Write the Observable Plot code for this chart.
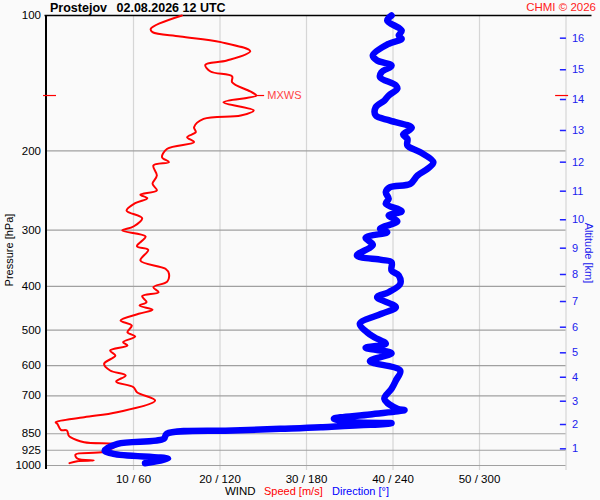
<!DOCTYPE html>
<html><head><meta charset="utf-8">
<script src="https://cdn.jsdelivr.net/npm/d3@7"></script>
<script src="https://cdn.jsdelivr.net/npm/@observablehq/plot@0.6"></script>
<style>body{margin:0;background:#fafafa;} svg{display:block}</style>
</head><body><div id="chart"></div>
<script>
// Wind speed profile [m/s] vs pressure [hPa]
const speedPressure = [100,107.0,108.9,111.3,114.6,120.1,125.9,128.7,133.2,136.6,140.7,147.5,150.6,155.9,162.6,166.8,169.7,177.1,181.7,186.4,191.2,197.8,206.5,211.8,215.4,226.8,236.6,244.8,250.2,254.7,261.3,271.3,282.1,294.4,300.5,309.8,325.6,331.6,350.4,365.5,375.0,390.1,401.6,412.0,420.5,433.6,441.0,450.8,460.1,476.2,488.6,505.6,516.8,532.1,541.2,555.3,569.8,594.3,615.0,631.0,650.7,669.9,687.3,717.2,761.4,781.1,801.4,808,833,836,858,865,888,899,932,945,965,975,978,988];
const speedValues   = [15.6,12.0,12.2,15.4,20.1,23.5,20.8,18.3,18.9,21.4,21.4,23.5,24.2,20.4,23.9,22.4,18.1,17.0,17.2,16.2,17.0,13.9,13.3,14.1,12.3,12.7,12.2,12.7,10.8,11.6,10.2,9.2,11.0,10.0,8.7,11.4,10.4,11.7,10.8,13.7,14.1,13.9,12.3,12.9,11.0,11.5,10.7,12.2,10.6,8.5,9.8,9.3,10.2,8.8,9.3,7.3,7.9,6.6,7.3,9.1,8.0,10.0,10.4,12.5,8.1,4.3,1.0,1.2,1.6,2.3,2.5,2.7,4.3,8.1,6.6,3.3,3.5,5.4,3.5,2.6];
// Wind direction profile [deg] vs pressure [hPa]
const dirPressure = [100,102.6,108.0,110.8,112.7,115.6,122.7,125.9,129.2,133.7,137.1,143.0,145.5,150.6,154.5,159.9,166.8,171.2,177.7,183.9,187.9,194.5,201.3,211.8,219.1,226.8,236.6,240.7,247.0,255.5,262.1,272.2,278.3,286.5,297.8,303.0,311.9,323.3,341.5,349.1,353.4,368.7,378.3,394.8,412.0,422.7,444.8,460.1,484.3,505.6,518.6,536.5,547.5,562.8,586.4,615.0,647.3,675.3,710.8,748.2,753,770.1,787.2,801.4,805.4,822.1,828.8,836,850.5,872.4,895.0,926.1,942.0,966.9,988.3];
const dirValues   = [239,236,246,244,246,237,226,229,239,232,231,242,243,237,234,228,228,238,253,247,250,250,259,268,264,257,252,238,235,237,235,246,237,243,231,236,221,226,215,232,239,239,244,245,237,229,242,232,217,222,227,235,221,239,224,245,242,239,234,243,248,224,199,213,239,190,162,129,83,81,49,40,46,84,68];
// Axis ticks
const pressureTicks = [100,200,300,400,500,600,700,850,925,1000];
const speedTicks = [10,20,30,40,50];
const gridSpeeds = [10,20,30,40,50,60];
const altitudeKm = [1,2,3,4,5,6,7,8,9,10,11,12,13,14,15,16];
const altitudePressure = [918.2,810.8,719.7,636.6,561.8,492.8,432.1,376.3,328.9,284.4,245.7,211.8,180.1,153.7,132.0,112.3];
const maxWindPressure = 150.6;
const maxWindSpeed = 24.2;

const speedData = speedPressure.map((p, i) => ({p, v: speedValues[i]}));
const dirData = dirPressure.map((p, i) => ({p, v: dirValues[i]}));
const altData = altitudeKm.map((km, i) => ({km, p: altitudePressure[i]}));
const maxWind = [{p: maxWindPressure, speed: maxWindSpeed}];

const RED = "#ff0000", BLUE = "#0000ff";

const chart = Plot.plot({
  width: 600, height: 500,
  marginTop: 15, marginBottom: 35, marginLeft: 46.5, marginRight: 34.5,
  style: {fontFamily: "Liberation Sans, Arial, sans-serif", fontSize: "11px", background: "#fafafa", color: "#000", overflow: "visible"},
  x: {domain: [0, 60]},
  y: {type: "log", domain: [1000, 100]},
  marks: [
    Plot.ruleX(gridSpeeds, {stroke: "#d6d6d6", strokeWidth: 1.2, insetBottom: -5}),
    Plot.ruleY(pressureTicks.slice(1), {stroke: "#a0a0a0", strokeWidth: 1.2}),
    Plot.axisY(pressureTicks, {tickSize: 0, tickPadding: 6, tickFormat: d => String(d), label: null, fontSize: 11.5, fill: "#000"}),
    Plot.axisX(speedTicks, {tickSize: 0, tickPadding: 9, tickFormat: d => `${d} / ${d * 6}`, label: null, fontSize: 11.5, fill: "#000"}),
    Plot.ruleX([0], {stroke: "#000", strokeWidth: 2, dx: -1, insetBottom: -4}),
    Plot.ruleY([100], {stroke: "#000", strokeWidth: 1.5, insetRight: -26, insetLeft: -2}),
    Plot.line(speedData, {x: "v", y: "p", stroke: RED, strokeWidth: 2, strokeLinejoin: "round", curve: "catmull-rom"}),
    Plot.line(dirData, {x: d => d.v / 6, y: "p", stroke: BLUE, strokeWidth: 6.5, strokeLinecap: "round", strokeLinejoin: "round", curve: "catmull-rom"}),
    // max wind markers
    Plot.ruleY(maxWind, {y: "p", x1: -0.4, x2: 1.1, stroke: RED, strokeWidth: 1.2}),
    Plot.ruleY(maxWind, {y: "p", x1: 58.8, x2: 60.3, stroke: RED, strokeWidth: 1.2}),
    Plot.link(maxWind, {x1: "speed", x2: d => d.speed + 0.9, y1: "p", y2: "p", stroke: RED, strokeWidth: 1.2}),
    Plot.text(maxWind, {x: "speed", y: "p", text: () => "MXWS", dx: 11, textAnchor: "start", fill: "#ff4444", fontSize: 11}),
    // altitude axis
    Plot.ruleY(altData, {y: "p", x1: 59.35, x2: 60.05, stroke: "#2020ff", strokeWidth: 1.5}),
    Plot.text(altData, {y: "p", text: "km", frameAnchor: "right", dx: 6, textAnchor: "start", fill: "#2020ee", fontSize: 11})
  ]
});

const svg = d3.select(chart);
const font = "Liberation Sans, Arial, sans-serif";
function txt(x, y, s, opts = {}) {
  const t = svg.append("text").attr("x", x).attr("y", y).text(s)
    .attr("font-family", font).attr("font-size", opts.size || 11)
    .attr("fill", opts.fill || "#000").attr("text-anchor", opts.anchor || "start");
  if (opts.weight) t.attr("font-weight", opts.weight);
  if (opts.transform) t.attr("transform", opts.transform);
  return t;
}
txt(50, 12, "Prostejov", {size: 12.5, weight: "bold"});
txt(116.5, 12, "02.08.2026 12 UTC", {size: 12.5, weight: "bold"});
txt(596, 11, "CHMI © 2026", {size: 11.5, fill: "#ff2020", anchor: "end"});
txt(0, 0, "Pressure [hPa]", {anchor: "middle", transform: "translate(12.5,250) rotate(-90)"});
txt(0, 0, "Altitude [km]", {anchor: "middle", fill: "#2020ee", transform: "translate(585,253) rotate(90)"});
txt(225, 495, "WIND", {size: 11.5});
txt(264, 495, "Speed [m/s]", {fill: RED});
txt(332, 495, "Direction [°]", {fill: BLUE});

document.getElementById("chart").appendChild(chart);
</script>
</body></html>
